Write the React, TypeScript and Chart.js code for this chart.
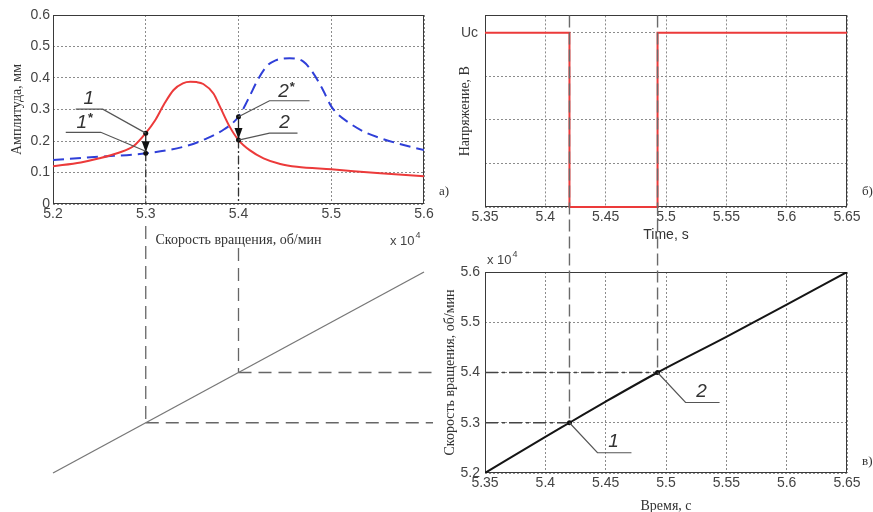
import React, { useEffect, useRef } from 'react';
import { Chart, registerables } from 'chart.js';

Chart.register(...registerables);

const W = 873;
const H = 512;
const SANS = '"Liberation Sans", Arial, sans-serif';
const SERIF = '"Liberation Serif", "Times New Roman", serif';

// ---------- Panel a: amplitude vs rotation speed (x 10^4 rpm) ----------
const speedTicks = [5.2, 5.3, 5.4, 5.5, 5.6];
const speedTickLabels = ['5.2', '5.3', '5.4', '5.5', '5.6'];
const ampTicks = [0, 0.1, 0.2, 0.3, 0.4, 0.5, 0.6];
const ampTickLabels = ['0', '0.1', '0.2', '0.3', '0.4', '0.5', '0.6'];

const redSpeed = [5.2, 5.23, 5.25, 5.27, 5.287, 5.3, 5.31, 5.32, 5.33, 5.34, 5.348, 5.355, 5.362, 5.373, 5.38, 5.39, 5.4, 5.412, 5.427, 5.445, 5.463, 5.5, 5.553, 5.6];
const redAmp = [0.12, 0.132, 0.145, 0.162, 0.184, 0.225, 0.265, 0.318, 0.362, 0.383, 0.388, 0.387, 0.381, 0.351, 0.309, 0.248, 0.203, 0.171, 0.145, 0.127, 0.118, 0.11, 0.0975, 0.088];

const blueSpeed = [5.2, 5.25, 5.3, 5.34, 5.365, 5.385, 5.4, 5.41, 5.42, 5.43, 5.44, 5.455, 5.47, 5.48, 5.49, 5.5, 5.506, 5.52, 5.535, 5.553, 5.571, 5.6];
const blueAmp = [0.14, 0.15, 0.161, 0.181, 0.207, 0.238, 0.277, 0.33, 0.39, 0.436, 0.456, 0.463, 0.452, 0.418, 0.368, 0.31, 0.288, 0.256, 0.23, 0.209, 0.193, 0.171];

const markSpeeds = [5.3, 5.4];

// ---------- Panel b: control voltage vs time ----------
const timeTicks = [5.35, 5.4, 5.45, 5.5, 5.55, 5.6, 5.65];
const timeTickLabels = ['5.35', '5.4', '5.45', '5.5', '5.55', '5.6', '5.65'];
const voltTicks = [0, 0.25, 0.5, 0.75, 1];
const voltTickLabels = ['', '', '', '', 'Uc'];
const stepTime = [5.35, 5.42, 5.42, 5.493, 5.493, 5.65];
const stepVolt = [1, 1, 0, 0, 1, 1];

// ---------- Panel c: rotation speed vs time ----------
const rampTime = [5.35, 5.4, 5.42, 5.45, 5.493, 5.55, 5.6, 5.65];
const rampSpeed = [5.2, 5.272, 5.3, 5.342, 5.4, 5.471, 5.535, 5.6];
const rampSpeedTicks = [5.2, 5.3, 5.4, 5.5, 5.6];
const rampSpeedTickLabels = ['5.2', '5.3', '5.4', '5.5', '5.6'];
const switchTimes = [5.42, 5.493];
const switchSpeeds = [5.3, 5.4];

const TICK_COLOR = '#444';
const GRID_COLOR = '#8c8c8c';

function pts(xs: number[], ys: number[]) {
  return xs.map((x, i) => ({ x, y: ys[i] }));
}

function axis(o: any) {
  return {
    type: 'linear',
    min: o.min,
    max: o.max,
    afterBuildTicks: (s: any) => {
      s.ticks = o.ticks.map((v: number) => ({ value: v }));
    },
    afterFit: (s: any) => {
      if (o.width != null) s.width = o.width;
      if (o.height != null) s.height = o.height;
    },
    grid: { color: GRID_COLOR, lineWidth: 1, drawTicks: false },
    border: { display: false, dash: [2, 2] },
    ticks: {
      autoSkip: false,
      maxRotation: 0,
      padding: o.tickPad ?? 3,
      color: TICK_COLOR,
      font: { family: SANS, size: 14 },
      callback: (_v: any, i: number) => o.labels[i],
    },
    title: o.title
      ? {
          display: true,
          text: o.title,
          color: '#333',
          font: { family: o.titleFont || SERIF, size: 14 },
          padding: o.titlePad || { top: 0, bottom: 0 },
        }
      : { display: false },
  };
}

function drawLine(ctx: CanvasRenderingContext2D, p: number[][], color: string, width: number, dash: number[] = []) {
  ctx.save();
  ctx.strokeStyle = color;
  ctx.lineWidth = width;
  ctx.setLineDash(dash);
  ctx.beginPath();
  p.forEach(([x, y], i) => (i ? ctx.lineTo(x, y) : ctx.moveTo(x, y)));
  ctx.stroke();
  ctx.restore();
}

function drawDot(ctx: CanvasRenderingContext2D, x: number, y: number, r: number, color = '#111') {
  ctx.save();
  ctx.fillStyle = color;
  ctx.beginPath();
  ctx.arc(x, y, r, 0, Math.PI * 2);
  ctx.fill();
  ctx.restore();
}

function drawNum(ctx: CanvasRenderingContext2D, text: string, sup: string, x: number, y: number) {
  ctx.save();
  ctx.fillStyle = '#333';
  ctx.font = `italic 19px ${SANS}`;
  ctx.textAlign = 'center';
  ctx.textBaseline = 'middle';
  ctx.fillText(text, x, y);
  if (sup) {
    const w = ctx.measureText(text).width;
    ctx.font = `bold 13px ${SANS}`;
    ctx.textAlign = 'left';
    ctx.fillText(sup, x + w / 2 + 1, y - 4);
  }
  ctx.restore();
}

function drawTimes10(ctx: CanvasRenderingContext2D, x: number, y: number) {
  ctx.save();
  ctx.fillStyle = TICK_COLOR;
  ctx.textBaseline = 'alphabetic';
  ctx.textAlign = 'left';
  ctx.font = `13px ${SANS}`;
  ctx.fillText('x 10', x, y);
  const w = ctx.measureText('x 10').width;
  ctx.font = `9px ${SANS}`;
  ctx.fillText('4', x + w + 1, y - 7);
  ctx.restore();
}

const framePlugin = {
  id: 'frame',
  beforeDatasetsDraw(chart: any) {
    const { ctx, chartArea: a } = chart;
    ctx.save();
    ctx.strokeStyle = '#3a3a3a';
    ctx.lineWidth = 1;
    ctx.strokeRect(Math.round(a.left) + 0.5, Math.round(a.top) + 0.5, Math.round(a.right - a.left) - 1, Math.round(a.bottom - a.top) - 1);
    ctx.restore();
  },
};

const valueAt = (xs: number[], ys: number[], x: number) => ys[xs.indexOf(x)];

const panelAPlugin = {
  id: 'panelA',
  afterDatasetsDraw(chart: any) {
    const { ctx } = chart;
    const xs = chart.scales.x;
    const ys = chart.scales.y;
    const bottom = chart.chartArea.bottom;
    markSpeeds.forEach((s, k) => {
      const px = xs.getPixelForValue(s);
      const r = ys.getPixelForValue(valueAt(redSpeed, redAmp, s));
      const b = ys.getPixelForValue(valueAt(blueSpeed, blueAmp, s));
      const upper = Math.min(r, b);
      const lower = Math.max(r, b);
      // dash-dot projection down to the axis
      drawLine(ctx, [[px, lower], [px, bottom]], '#333', 1.3, [8, 3, 2, 3]);
      drawLine(ctx, [[px, upper], [px, lower]], '#222', 1.3);
      // arrow head
      ctx.save();
      ctx.fillStyle = '#111';
      ctx.beginPath();
      ctx.moveTo(px - 4, lower - 12);
      ctx.lineTo(px + 4, lower - 12);
      ctx.lineTo(px, lower - 1);
      ctx.closePath();
      ctx.fill();
      ctx.restore();
      drawDot(ctx, px, upper, 2.5);
      drawDot(ctx, px, lower, 2.5);
      // leaders and labels
      if (k === 0) {
        drawLine(ctx, [[px, r], [px - 43, r - 24], [px - 70, r - 24]], '#555', 1.2);
        drawNum(ctx, '1', '', px - 57, r - 34);
        drawLine(ctx, [[px, b - 2], [px - 45, b - 21], [px - 80, b - 21]], '#555', 1.2);
        drawNum(ctx, '1', '*', px - 64, b - 31);
      } else {
        drawLine(ctx, [[px, b], [px + 31, b - 16], [px + 71, b - 16]], '#555', 1.2);
        drawNum(ctx, '2', '*', px + 45, b - 25);
        drawLine(ctx, [[px, r], [px + 31, r - 7], [px + 59, r - 7]], '#555', 1.2);
        drawNum(ctx, '2', '', px + 46, r - 17);
      }
    });
    drawTimes10(ctx, chart.chartArea.right - 34, chart.chartArea.bottom + 41);
  },
};

const cfgA: any = {
  type: 'scatter',
  data: {
    datasets: [
      {
        data: pts(redSpeed, redAmp),
        showLine: true,
        borderColor: '#ec3a3a',
        borderWidth: 2,
        pointRadius: 0,
        cubicInterpolationMode: 'monotone',
      },
      {
        data: pts(blueSpeed, blueAmp),
        showLine: true,
        borderColor: '#2f3fd8',
        borderWidth: 2,
        borderDash: [11, 6],
        pointRadius: 0,
        cubicInterpolationMode: 'monotone',
      },
    ],
  },
  options: {
    animation: false,
    responsive: false,
    events: [],
    layout: { padding: { left: 9, top: 15, right: 449, bottom: 263 } },
    plugins: { legend: { display: false }, tooltip: { enabled: false } },
    scales: {
      x: axis({ min: 5.2, max: 5.6, ticks: speedTicks, labels: speedTickLabels, height: 45, tickPad: 2, title: 'Скорость вращения, об/мин' }),
      y: axis({ min: 0, max: 0.6, ticks: ampTicks, labels: ampTickLabels, width: 44, tickPad: 3, title: 'Амплитуда, мм' }),
    },
  },
  plugins: [framePlugin, panelAPlugin],
};

const cfgB: any = {
  type: 'scatter',
  data: {
    datasets: [
      {
        data: pts(stepTime, stepVolt),
        showLine: true,
        borderColor: '#ec3a3a',
        borderWidth: 2,
        pointRadius: 0,
        clip: 3,
      },
    ],
  },
  options: {
    animation: false,
    responsive: false,
    events: [],
    layout: { padding: { left: 450, top: 15, right: 26, bottom: 265 } },
    plugins: { legend: { display: false }, tooltip: { enabled: false } },
    scales: {
      x: axis({ min: 5.35, max: 5.65, ticks: timeTicks, labels: timeTickLabels, height: 40, tickPad: 2, title: 'Time, s', titleFont: SANS, titlePad: { top: 0, bottom: 3 } }),
      y: axis({ min: 0, max: 1.1, ticks: voltTicks, labels: voltTickLabels, width: 35, tickPad: 7, title: 'Напряжение, В', titlePad: { top: 7, bottom: 0 } }),
    },
  },
  plugins: [framePlugin],
};

function makeCfgC(chartA: any, chartB: any): any {
  const overlay = {
    id: 'overlay',
    afterDatasetsDraw(chart: any) {
      const { ctx } = chart;
      const cx = chart.scales.x;
      const cy = chart.scales.y;
      const ax = chartA.scales.x;
      const cLeft = chart.chartArea.left;
      // projection lines inside panel c and from panel b
      switchTimes.forEach((t, i) => {
        const px = cx.getPixelForValue(t);
        const py = cy.getPixelForValue(switchSpeeds[i]);
        drawLine(ctx, [[px, chartB.chartArea.top], [px, py]], '#6a6a6a', 1.4, [12, 5]);
        drawLine(ctx, [[cLeft, py], [px, py]], '#444', 1.3, [13, 4, 3, 4]);
      });
      // transfer lines on the left
      switchSpeeds.forEach((s, i) => {
        const px = ax.getPixelForValue(s);
        const py = cy.getPixelForValue(s);
        drawLine(ctx, [[px, py], [cLeft - 52, py]], '#666', 1.3, [13, 7]);
        drawLine(ctx, [[px, chartA.chartArea.bottom + (i === 0 ? 22 : 44)], [px, py]], '#666', 1.3, [13, 7]);
      });
      // speed-to-speed diagonal
      const sMin = rampSpeedTicks[0];
      const sMax = rampSpeedTicks[rampSpeedTicks.length - 1];
      drawLine(
        ctx,
        [
          [ax.getPixelForValue(sMin), cy.getPixelForValue(sMin)],
          [ax.getPixelForValue(sMax), cy.getPixelForValue(sMax)],
        ],
        '#777',
        1.3
      );
      // marked points and their labels
      switchTimes.forEach((t, i) => {
        const px = cx.getPixelForValue(t);
        const py = cy.getPixelForValue(switchSpeeds[i]);
        drawDot(ctx, px, py, 2.5);
        drawLine(ctx, [[px, py], [px + 28, py + 30], [px + 62, py + 30]], '#555', 1.2);
        drawNum(ctx, String(i + 1), '', px + 44, py + 19);
      });
      drawTimes10(ctx, cLeft + 2, chart.chartArea.top - 8);
      // panel letters
      ctx.save();
      ctx.fillStyle = '#333';
      ctx.font = `13px ${SERIF}`;
      ctx.textBaseline = 'middle';
      ctx.textAlign = 'left';
      ctx.fillText('а)', chartB.chartArea.left - 46, chartB.chartArea.bottom - 15);
      ctx.fillText('б)', chartB.chartArea.right + 15, chartB.chartArea.bottom - 15);
      ctx.fillText('в)', chart.chartArea.right + 15, chart.chartArea.bottom - 11);
      ctx.restore();
    },
  };
  return {
    type: 'scatter',
    data: {
      datasets: [
        {
          data: pts(rampTime, rampSpeed),
          showLine: true,
          borderColor: '#151515',
          borderWidth: 2,
          pointRadius: 0,
          cubicInterpolationMode: 'monotone',
        },
      ],
    },
    options: {
      animation: false,
      responsive: false,
      events: [],
      layout: { padding: { left: 440, top: 272, right: 26, bottom: 0 } },
      plugins: { legend: { display: false }, tooltip: { enabled: false } },
      scales: {
        x: axis({ min: 5.35, max: 5.65, ticks: timeTicks, labels: timeTickLabels, height: 39, tickPad: 2, title: 'Время, с', titlePad: { top: 0, bottom: -3 } }),
        y: axis({ min: 5.2, max: 5.6, ticks: rampSpeedTicks, labels: rampSpeedTickLabels, width: 45, tickPad: 5, title: 'Скорость вращения, об/мин', titlePad: { top: 2, bottom: 0 } }),
      },
    },
    plugins: [framePlugin, overlay],
  };
}

const abs: React.CSSProperties = { position: 'absolute', left: 0, top: 0, width: W, height: H };

export default function App() {
  const aRef = useRef<HTMLCanvasElement>(null);
  const bRef = useRef<HTMLCanvasElement>(null);
  const cRef = useRef<HTMLCanvasElement>(null);

  useEffect(() => {
    const a = new Chart(aRef.current as HTMLCanvasElement, cfgA);
    const b = new Chart(bRef.current as HTMLCanvasElement, cfgB);
    const c = new Chart(cRef.current as HTMLCanvasElement, makeCfgC(a, b));
    return () => {
      c.destroy();
      b.destroy();
      a.destroy();
    };
  }, []);

  return (
    <div style={{ position: 'fixed', left: 0, top: 0, width: W, height: H, background: '#fff', overflow: 'hidden' }}>
      <canvas ref={aRef} width={W} height={H} style={abs} />
      <canvas ref={bRef} width={W} height={H} style={abs} />
      <canvas ref={cRef} width={W} height={H} style={abs} />
    </div>
  );
}
